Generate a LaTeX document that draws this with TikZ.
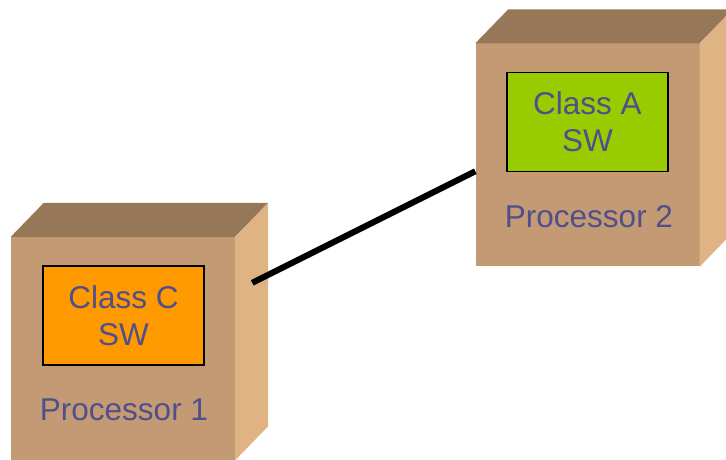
\documentclass[tikz,border=0pt]{standalone}
\usepackage{fontspec}
\setmainfont{Liberation Sans}
\usepackage{xcolor}
\usepackage{tikz}
\usetikzlibrary{positioning,calc}

\definecolor{boxfront}{HTML}{C49A74}
\definecolor{boxtop}{HTML}{967858}
\definecolor{boxside}{HTML}{E0B385}
\definecolor{swtext}{HTML}{4F4F8C}
\definecolor{swclassc}{HTML}{FF9900}
\definecolor{swclassa}{HTML}{99CC00}

\begin{document}
\begin{tikzpicture}[x=1pt, y=1pt,
  front/.style={fill=boxfront, minimum width=224pt, minimum height=223pt, inner sep=0pt},
  sw/.style={draw=black, line width=1.5pt, minimum width=161pt, minimum height=99pt,
             inner sep=0pt, align=center, text=swtext, font=\fontsize{31.5}{37}\selectfont},
  proclabel/.style={text=swtext, font=\fontsize{31.5}{36}\selectfont},
  link/.style={line width=6pt}
]
\clip (0,0) rectangle (726,460);
\node[front] (proc1) at (123,111.5) {};
\node[front] (proc2) at (587.5,305) {};
\fill[boxtop] (proc1.north west) -- ++(33,34) -- ($(proc1.north east)+(33,34)$) -- (proc1.north east) -- cycle;
\fill[boxside] (proc1.north east) -- ++(33,34) -- ($(proc1.south east)+(33,34)$) -- (proc1.south east) -- cycle;
\fill[boxtop] (proc2.north west) -- ++(33,34) -- ($(proc2.north east)+(33,34)$) -- (proc2.north east) -- cycle;
\fill[boxside] (proc2.north east) -- ++(33,34) -- ($(proc2.south east)+(33,34)$) -- (proc2.south east) -- cycle;
\node[sw, fill=swclassc] (swC) at (123.5,144.5) {Class C\\SW};
\node[sw, fill=swclassa] (swA) at (587.5,338) {Class A\\SW};
\node[proclabel] (lbl1) at (124,50) {Processor 1};
\node[proclabel] (lbl2) at (589,243) {Processor 2};
\draw[link] ([xshift=17pt, yshift=-46pt]proc1.north east) -- ([yshift=-128pt]proc2.north west);
\end{tikzpicture}
\end{document}
